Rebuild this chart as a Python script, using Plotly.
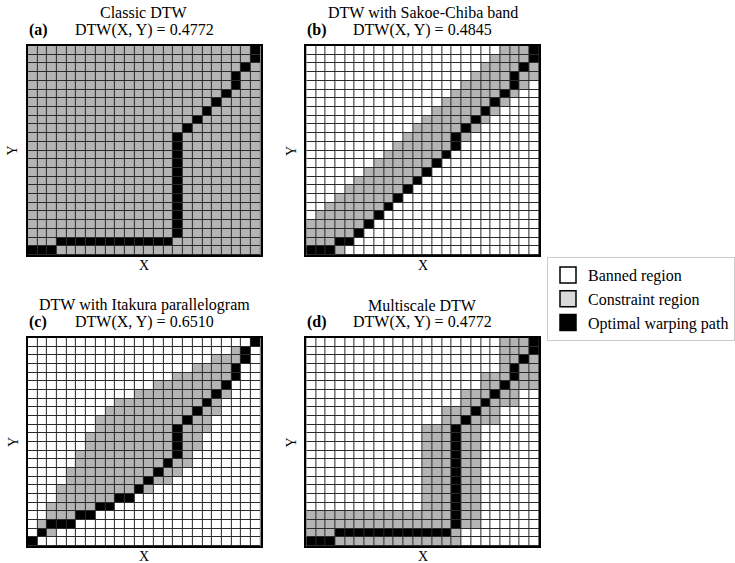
import plotly.graph_objects as go

# ---------------- data ----------------
N = 24

# optimal warping paths (column index, row index)
classic_path_x = [0, 1, 2, 3, 4, 5, 6, 7, 8, 9, 10, 11, 12, 13, 14, 15, 15, 15, 15, 15, 15, 15, 15, 15, 15, 15, 15,
                  16, 17, 18, 19, 20, 21, 21, 22, 23, 23]
classic_path_y = [0, 0, 0, 1, 1, 1, 1, 1, 1, 1, 1, 1, 1, 1, 1, 2, 3, 4, 5, 6, 7, 8, 9, 10, 11, 12, 13,
                  14, 15, 16, 17, 18, 19, 20, 21, 22, 23]

sakoe_path_x = [0, 1, 2, 3, 4, 5, 6, 7, 8, 9, 10, 11, 12, 13, 14, 15, 15, 16, 17, 18, 19, 20, 21, 21, 22, 23, 23]
sakoe_path_y = [0, 0, 0, 1, 1, 2, 3, 4, 5, 6, 7, 8, 9, 10, 11, 12, 13, 14, 15, 16, 17, 18, 19, 20, 21, 22, 23]

itakura_path_x = [0, 1, 2, 3, 4, 5, 6, 7, 8, 9, 10, 11, 12, 13, 14, 15, 15, 15, 15, 16, 17, 18, 19, 20, 21, 21,
                  22, 22, 23]
itakura_path_y = [0, 1, 2, 2, 2, 3, 3, 4, 4, 5, 5, 6, 7, 8, 9, 10, 11, 12, 13, 14, 15, 16, 17, 18, 19, 20,
                  21, 22, 23]

multiscale_path_x = [0, 1, 2, 3, 4, 5, 6, 7, 8, 9, 10, 11, 12, 13, 14, 15, 15, 15, 15, 15, 15, 15, 15, 15, 15, 15, 15,
                     16, 17, 18, 19, 20, 21, 21, 22, 23, 23]
multiscale_path_y = [0, 0, 0, 1, 1, 1, 1, 1, 1, 1, 1, 1, 1, 1, 1, 2, 3, 4, 5, 6, 7, 8, 9, 10, 11, 12, 13,
                     14, 15, 16, 17, 18, 19, 20, 21, 22, 23]

# constraint region per row (row 0 = bottom): first and last allowed column
classic_lo = [0] * 24
classic_hi = [23] * 24

sakoe_lo = [0, 0, 0, 0, 1, 2, 3, 4, 5, 6, 7, 8, 9, 10, 11, 12, 13, 14, 15, 16, 17, 18, 19, 20]
sakoe_hi = [3, 4, 5, 6, 7, 8, 9, 10, 11, 12, 13, 14, 15, 16, 17, 18, 19, 20, 21, 22, 23, 23, 23, 23]

itakura_lo = [0, 1, 1, 2, 2, 3, 3, 4, 4, 5, 5, 6, 6, 7, 7, 8, 9, 11, 13, 15, 17, 19, 21, 23]
itakura_hi = [0, 2, 4, 6, 8, 10, 12, 14, 15, 16, 16, 17, 17, 18, 18, 19, 19, 20, 20, 21, 21, 22, 22, 23]

multiscale_lo = [0, 0, 0, 0, 12, 12, 12, 12, 12, 12, 12, 12, 12, 12, 14, 14, 16, 16, 18, 18, 20, 20, 20, 20]
multiscale_hi = [15, 15, 17, 17, 17, 17, 17, 17, 17, 17, 17, 17, 17, 17, 19, 19, 21, 21, 23, 23, 23, 23, 23, 23]

titles = ["Classic DTW", "DTW with Sakoe-Chiba band", "DTW with Itakura parallelogram", "Multiscale DTW"]
scores = ["0.4772", "0.4845", "0.6510", "0.4772"]
letters = ["(a)", "(b)", "(c)", "(d)"]
legend_labels = ["Banned region", "Constraint region", "Optimal warping path"]

# ---------------- figure ----------------
W, H = 735, 563
FONT = "Liberation Serif"
GRAY = "#b4b4b4"


def px(x):
    return x / W


def py(y):
    return 1 - y / H


panel_px = [(28, 46, 209), (308, 46, 209), (28, 338, 208), (308, 338, 208)]  # left, top, height
PW = 234

panels = [
    (classic_lo, classic_hi, classic_path_x, classic_path_y),
    (sakoe_lo, sakoe_hi, sakoe_path_x, sakoe_path_y),
    (itakura_lo, itakura_hi, itakura_path_x, itakura_path_y),
    (multiscale_lo, multiscale_hi, multiscale_path_x, multiscale_path_y),
]

colorscale = [[0, "#ffffff"], [0.3333, "#ffffff"], [0.3334, GRAY], [0.6666, GRAY],
              [0.6667, "#000000"], [1, "#000000"]]

fig = go.Figure()
layout = dict(
    width=W, height=H, margin=dict(l=0, r=0, t=0, b=0),
    paper_bgcolor="white", plot_bgcolor="#2a2a2a",
    font=dict(family=FONT, size=16, color="black"),
    showlegend=True,
)
annotations = []

for k, (lo, hi, pxs, pys) in enumerate(panels):
    z = [[0] * N for _ in range(N)]
    for j in range(N):
        for i in range(lo[j], hi[j] + 1):
            z[j][i] = 1
    for i, j in zip(pxs, pys):
        z[j][i] = 2
    sfx = "" if k == 0 else str(k + 1)
    fig.add_trace(go.Heatmap(
        z=z, x=list(range(N)), y=list(range(N)), zmin=0, zmax=2,
        colorscale=colorscale, showscale=False, xgap=1, ygap=1,
        hoverinfo="skip", xaxis="x" + sfx, yaxis="y" + sfx, showlegend=False,
    ))
    left, top, ph = panel_px[k]
    axis_common = dict(range=[-0.5, N - 0.5], showticklabels=False, ticks="", showgrid=False,
                       zeroline=False, showline=True, mirror=True, linecolor="black",
                       linewidth=1.5, fixedrange=True)
    layout["xaxis" + sfx] = dict(domain=[px(left), px(left + PW)], anchor="y" + sfx, **axis_common)
    layout["yaxis" + sfx] = dict(domain=[py(top + ph), py(top)], anchor="x" + sfx, **axis_common)

    cx = left + PW / 2
    annotations += [
        dict(text=titles[k], x=px(cx), y=py(top - 33), xref="paper", yref="paper",
             showarrow=False, xanchor="center", yanchor="middle", font=dict(size=16)),
        dict(text="DTW(X, Y) = " + scores[k], x=px(cx), y=py(top - 16), xref="paper", yref="paper",
             showarrow=False, xanchor="center", yanchor="middle", font=dict(size=16)),
        dict(text="<b>" + letters[k] + "</b>", x=px(left - 1), y=py(top - 16), xref="paper", yref="paper",
             showarrow=False, xanchor="left", yanchor="middle", font=dict(size=16)),
        dict(text="X", x=px(cx), y=py(top + ph + 10), xref="paper", yref="paper",
             showarrow=False, xanchor="center", yanchor="middle", height=14, valign="middle",
             font=dict(size=14)),
        dict(text="Y", x=px(left - 15), y=py(top + ph / 2), xref="paper", yref="paper",
             showarrow=False, xanchor="center", yanchor="middle", textangle=-90, font=dict(size=14)),
    ]

legend_fill = ["#ffffff", "#d9d9d9", "#000000"]
for name, col in zip(legend_labels, legend_fill):
    fig.add_trace(go.Scatter(
        x=[None], y=[None], mode="markers", name=name,
        marker=dict(symbol="square", size=16, color=col, line=dict(color="black", width=1.5)),
        xaxis="x", yaxis="y",
    ))

layout["legend"] = dict(x=px(550), y=py(257), xanchor="left", yanchor="top",
                        bgcolor="white", bordercolor="#cccccc", borderwidth=1,
                        font=dict(family=FONT, size=16), tracegroupgap=0, itemsizing="trace")
layout["annotations"] = annotations
fig.update_layout(**layout)

fig.write_html("out.html")
